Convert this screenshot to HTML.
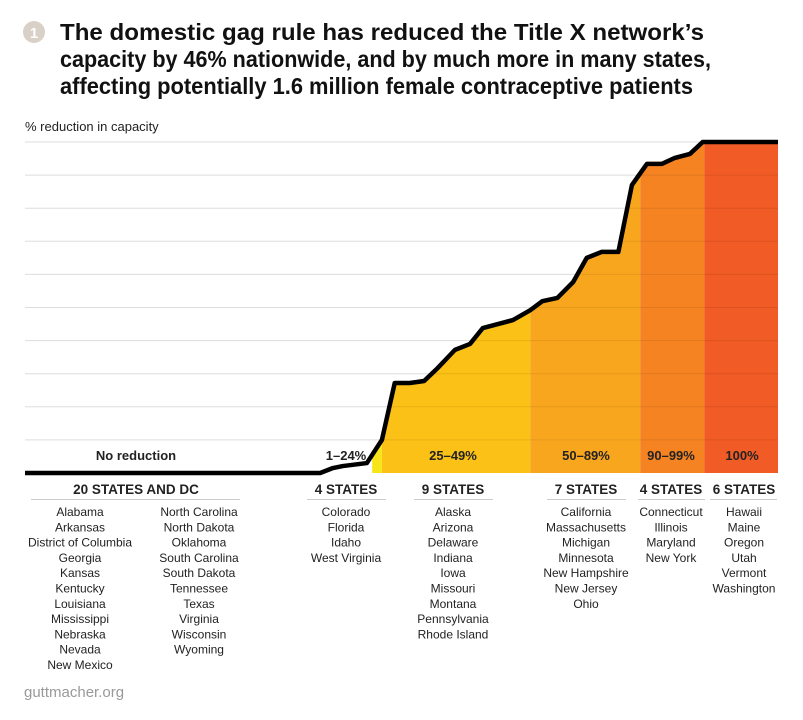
<!DOCTYPE html>
<html><head><meta charset="utf-8"><style>
html,body{margin:0;padding:0;background:#fff}
svg{display:block;font-family:"Liberation Sans",sans-serif}
</style></head><body>
<svg width="803" height="720" viewBox="0 0 803 720">
<g>
<circle cx="34" cy="32" r="11" fill="#d9d0c7"/>
<text x="34" y="38" text-anchor="middle" font-size="15" font-weight="bold" fill="#fff">1</text>
<text font-size="23" font-weight="bold" fill="#111">
<tspan x="60" y="40" textLength="644" lengthAdjust="spacingAndGlyphs">The domestic gag rule has reduced the Title X network’s</tspan>
<tspan x="60" y="67" textLength="651" lengthAdjust="spacingAndGlyphs">capacity by 46% nationwide, and by much more in many states,</tspan>
<tspan x="60" y="94" textLength="633" lengthAdjust="spacingAndGlyphs">affecting potentially 1.6 million female contraceptive patients</tspan>
</text>
</g>
<text x="25" y="131" font-size="13" fill="#222">% reduction in capacity</text>
<g id="grid"></g>
<g id="plot"></g>
<g id="lists"></g>
<text x="24" y="697" font-size="15" fill="#999">guttmacher.org</text>
</svg>
<script>
const xs = [0,39.2,40.9,42.2,45.4,47.4,49.1,51.1,53,54.8,57.1,59.1,60.8,64.8,67.1,68.7,70.7,72.8,74.6,76.6,78.8,80.6,82.6,84.6,86.3,88.3,90,100];
const ys = [0,0,1.5,2.1,3,10,27.2,27.2,27.8,31.7,37.2,39,43.8,46.2,49.2,51.9,52.9,57.7,65,66.8,66.8,87,93.4,93.4,95.2,96.4,100,100];
const bandNames = ["1–24%","25–49%","50–89%","90–99%","100%"];
const bandStart = [46.1,47.4,67.1,81.7,90.2];
const bandEnd = [47.4,67.1,81.7,90.2,100];
const bandColors = ["#f7e51a","#fcc116","#f9a61f","#f58322","#f15b25"];
const gridTicks = [10,20,30,40,50,60,70,80,90,100];
const groupHeads = ["20 STATES AND DC","4 STATES","9 STATES","7 STATES","4 STATES","6 STATES"];
const groupStates = [
 [["Alabama","Arkansas","District of Columbia","Georgia","Kansas","Kentucky","Louisiana","Mississippi","Nebraska","Nevada","New Mexico"],
  ["North Carolina","North Dakota","Oklahoma","South Carolina","South Dakota","Tennessee","Texas","Virginia","Wisconsin","Wyoming"]],
 [["Colorado","Florida","Idaho","West Virginia"]],
 [["Alaska","Arizona","Delaware","Indiana","Iowa","Missouri","Montana","Pennsylvania","Rhode Island"]],
 [["California","Massachusetts","Michigan","Minnesota","New Hampshire","New Jersey","Ohio"]],
 [["Connecticut","Illinois","Maryland","New York"]],
 [["Hawaii","Maine","Oregon","Utah","Vermont","Washington"]]
];
const NS="http://www.w3.org/2000/svg";
const X0=25,X1=778,Y0=473,Y1=142;
const sx=v=>X0+(X1-X0)*v/100;
const sy=v=>Y0-(Y0-Y1)*v/100;
function mk(tag,attrs,parent){const e=document.createElementNS(NS,tag);for(const k in attrs)e.setAttribute(k,attrs[k]);parent.appendChild(e);return e;}
const grid=document.getElementById('grid');
gridTicks.forEach(t=>{const l=mk('line',{x1:X0,x2:X1,y1:sy(t),y2:sy(t),stroke:'#ddd','stroke-width':1},grid);

});
const plot=document.getElementById('plot');
const defs=mk('defs',{},plot);
const cp=mk('clipPath',{id:'areaclip'},defs);
let d='M'+sx(xs[0])+','+sy(0);
xs.forEach((x,i)=>{d+=' L'+sx(x)+','+sy(ys[i]);});
d+=' L'+sx(xs[xs.length-1])+','+sy(0)+' Z';
mk('path',{d:d},cp);
const bg=mk('g',{'clip-path':'url(#areaclip)'},plot);
bandStart.forEach((b,i)=>{const r=mk('rect',{x:sx(b),y:Y1-5,width:sx(bandEnd[i])-sx(b),height:Y0-Y1+5,fill:bandColors[i]},bg);

});
gridTicks.forEach(t=>{mk('line',{x1:X0,x2:X1,y1:sy(t),y2:sy(t),stroke:'#000','stroke-opacity':0.08,'stroke-width':1},bg);});
// label backgrounds
const lb=mk('rect',{x:322,y:444,width:49,height:24,fill:'#fff','fill-opacity':0.85},plot);


let ld='M'+sx(xs[0])+','+sy(ys[0]);
xs.forEach((x,i)=>{ld+=' L'+sx(x)+','+sy(ys[i]);});
const line=mk('path',{d:ld,fill:'none',stroke:'#000','stroke-width':4.5,'stroke-linejoin':'round'},plot);


const nr=mk('text',{x:136,y:460,'text-anchor':'middle','font-size':13,'font-weight':'bold',fill:'#222'},plot);
nr.textContent='No reduction';


const labelX=[346,453,586,671,742];
bandNames.forEach((n,i)=>{const t=mk('text',{x:labelX[i],y:460,'text-anchor':'middle','font-size':13,'font-weight':'bold',fill:'#222'},plot);
t.textContent=n;

});
// lists
const lists=document.getElementById('lists');
const headX=[136,346,453,586,671,744];
const headL=[31,307,414,547,638,710];
const headR=[240,386,493,626,705,777];
const colX=[[80,199],[346],[453],[586],[671],[744]];
groupHeads.forEach((h,i)=>{
 const t=mk('text',{x:headX[i],y:494,'text-anchor':'middle','font-size':13.5,'font-weight':'bold',fill:'#222'},lists);
 t.textContent=h;
 
 
 mk('line',{x1:headL[i],x2:headR[i],y1:499.5,y2:499.5,stroke:'#ccc','stroke-width':1},lists);
 groupStates[i].forEach((col,c)=>{col.forEach((s,k)=>{
  const st=mk('text',{x:colX[i][c],y:516+k*15.3,'text-anchor':'middle','font-size':12,fill:'#222'},lists);
  st.textContent=s;
  
  
 });});
});
</script>
</body></html>
